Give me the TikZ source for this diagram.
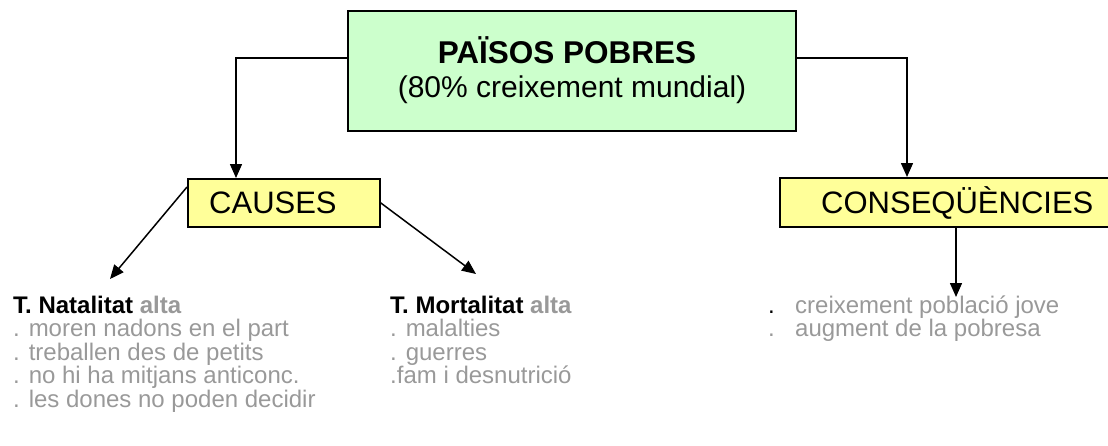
\documentclass[tikz,border=0pt]{standalone}
\usepackage{fontspec}
\setmainfont{Liberation Sans}
\usetikzlibrary{arrows.meta}
\definecolor{boxgreen}{HTML}{CCFFCC}
\definecolor{boxyellow}{HTML}{FFFF99}
\definecolor{txtgray}{HTML}{999999}
\begin{document}
\begin{tikzpicture}[x=1pt,y=-1pt,
  conn/.style={line width=1.5pt},
  arr/.style={conn,-{Triangle[length=14pt,width=12pt]}},
  box/.style={draw=black,line width=1.5pt,inner sep=0pt,anchor=north west},
  big/.style={inner sep=0pt,font=\fontsize{31}{34}\selectfont},
  small/.style={anchor=base west,inner sep=0pt,font=\fontsize{24}{23.5}\selectfont},
  grey/.style={small,text=txtgray}]
\useasboundingbox (0,0) rectangle (1108,445);
% main box
\node[box,fill=boxgreen,minimum width=448pt,minimum height=120pt] (main) at (347,10) {};
\node[big,anchor=base,font=\bfseries\fontsize{31.5}{34}\selectfont] (title) at (567,63) {PAÏSOS POBRES};
\node[big,anchor=base,font=\fontsize{30}{34}\selectfont] (sub) at (572,97) {(80\% creixement mundial)};
% second level boxes
\node[box,fill=boxyellow,minimum width=192pt,minimum height=48pt] (causes) at (187,178) {};
\node[big,anchor=base west] (causest) at (209,213) {CAUSES};
\node[box,fill=boxyellow,minimum width=340pt,minimum height=49pt] (cons) at (779,177) {};
\node[big,anchor=base west] (const) at (821,213) {CONSEQÜÈNCIES};
% connectors
\coordinate (lc) at (236,58);
\coordinate (rc) at (907,58);
\draw[arr] (main.west |- lc) -- (lc) -- (causes.north -| lc);
\draw[arr] (main.east |- rc) -- (rc) -- (cons.north -| rc);
\coordinate (natA) at (110,279);
\coordinate (morA) at (476,274);
\coordinate (consA) at (956,297);
\draw[arr] ([yshift=-9pt]causes.north west) -- (natA);
\draw[arr] (causes.east) -- (morA);
\draw[arr] (cons.south -| consA) -- (consA);
% texts, left column
\node[small] (n0) at (13,313) {\textbf{T. Natalitat} \textcolor{txtgray}{\textbf{alta}}};
\node[grey] (n1) at (13,336.5) {. moren nadons en el part};
\node[grey] (n2) at (13,360) {. treballen des de petits};
\node[grey] (n3) at (13,383.5) {. no hi ha mitjans anticonc.};
\node[grey] (n4) at (13,407) {. les dones no poden decidir};
% middle column
\node[small] (m0) at (390,313) {\textbf{T. Mortalitat} \textcolor{txtgray}{\textbf{alta}}};
\node[grey] (m1) at (390,336.5) {. malalties};
\node[grey] (m2) at (390,360) {. guerres};
\node[grey] (m3) at (390,383.5) {.fam i desnutrició};
% right column
\node[small] (c0d) at (768,313) {.};
\node[grey] (c0) at (795,313) {creixement població jove};
\node[grey] (c1d) at (768,336.5) {.};
\node[grey] (c1) at (795,336.5) {augment de la pobresa};
\end{tikzpicture}
\end{document}
